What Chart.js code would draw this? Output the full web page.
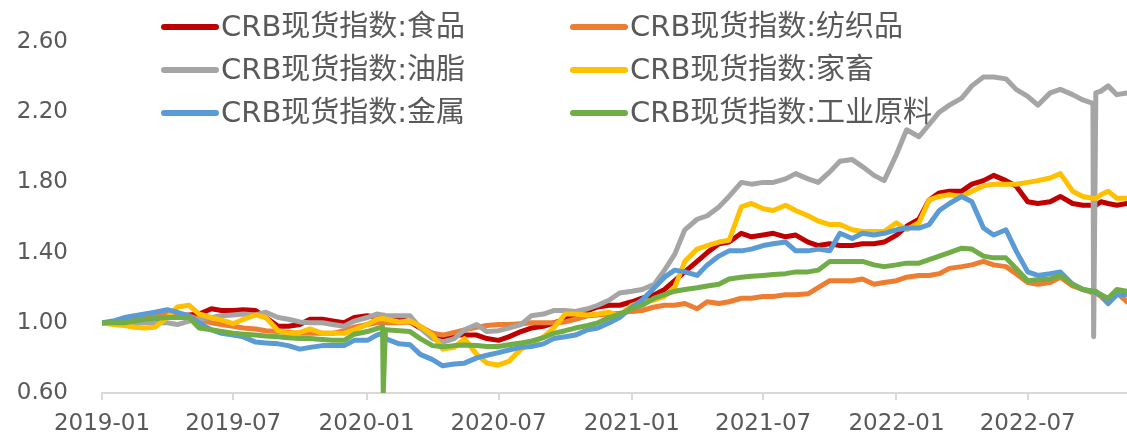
<!DOCTYPE html>
<html>
<head>
<meta charset="utf-8">
<title>CRB现货指数</title>
<script src="https://cdn.jsdelivr.net/npm/chart.js@4.4.0/dist/chart.umd.min.js"></script>
<style>
  html, body { margin: 0; padding: 0; background: #fff; }
  #wrap { width: 1127px; height: 436px; position: relative; }
</style>
</head>
<body>
<div id="wrap"><canvas id="crbChart"></canvas></div>
<script>
// sample dates (semi-monthly, plus the two holiday spikes)
const dates = [
  '2019-01-02','2019-01-16','2019-02-01','2019-02-15','2019-03-01','2019-03-15','2019-04-01','2019-04-15','2019-05-01','2019-05-15','2019-06-01','2019-06-15',
  '2019-07-01','2019-07-15','2019-08-01','2019-08-15','2019-09-01','2019-09-15','2019-10-01','2019-10-15','2019-11-01','2019-11-15','2019-12-01','2019-12-15',
  '2020-01-02','2020-01-15','2020-01-23','2020-01-24','2020-01-27','2020-02-15','2020-03-01','2020-03-15','2020-04-01','2020-04-15','2020-05-01','2020-05-15','2020-06-01',
  '2020-06-15','2020-07-01','2020-07-15','2020-08-01','2020-08-15','2020-09-01','2020-09-15','2020-10-01','2020-10-15','2020-11-01','2020-11-15','2020-12-01','2020-12-15',
  '2021-01-01','2021-01-15','2021-02-01','2021-02-15','2021-03-01','2021-03-15','2021-04-01','2021-04-15','2021-05-01','2021-05-15','2021-06-01','2021-06-15',
  '2021-07-01','2021-07-15','2021-08-01','2021-08-15','2021-09-01','2021-09-15','2021-10-01','2021-10-15','2021-11-01','2021-11-15','2021-12-01','2021-12-15',
  '2022-01-01','2022-01-15','2022-02-01','2022-02-15','2022-03-01','2022-03-15','2022-04-01','2022-04-15','2022-05-01','2022-05-15','2022-06-01','2022-06-15',
  '2022-07-01','2022-07-15','2022-08-01','2022-08-15','2022-09-01','2022-09-15','2022-09-29','2022-09-30','2022-10-03','2022-10-10','2022-10-20','2022-11-01','2022-11-15'
];

const food = [
  1.00,1.00,1.01,1.01,1.02,1.02,1.03,1.04,1.045,1.05,1.08,1.07,
  1.07,1.075,1.07,1.03,0.98,0.98,0.99,1.02,1.02,1.01,1.00,1.03,
  1.04,1.03,1.03,1.03,1.03,1.02,1.005,0.97,0.94,0.92,0.93,0.93,0.93,
  0.91,0.90,0.92,0.95,0.97,0.98,1.00,1.02,1.05,1.07,1.09,1.10,1.10,
  1.12,1.14,1.16,1.19,1.24,1.29,1.35,1.40,1.45,1.46,1.51,1.49,
  1.50,1.51,1.49,1.50,1.46,1.44,1.45,1.44,1.44,1.45,1.45,1.46,
  1.50,1.55,1.59,1.70,1.74,1.75,1.75,1.79,1.81,1.84,1.81,1.78,
  1.69,1.68,1.69,1.72,1.68,1.67,1.67,1.67,1.67,1.69,1.68,1.67,1.68
];
const textile = [
  1.00,1.00,1.01,1.02,1.03,1.04,1.05,1.05,1.04,1.02,1.00,0.99,
  0.98,0.97,0.965,0.955,0.95,0.945,0.94,0.94,0.94,0.94,0.955,0.975,
  0.99,1.00,1.00,1.00,1.00,1.00,1.005,0.98,0.94,0.93,0.945,0.96,0.975,
  0.985,0.99,0.99,0.995,1.00,1.00,1.00,1.005,1.02,1.04,1.045,1.05,1.055,
  1.065,1.07,1.09,1.10,1.10,1.11,1.08,1.12,1.11,1.12,1.14,1.14,
  1.15,1.15,1.16,1.16,1.165,1.20,1.24,1.24,1.24,1.25,1.22,1.23,
  1.24,1.26,1.27,1.27,1.28,1.31,1.32,1.33,1.35,1.33,1.32,1.28,
  1.23,1.22,1.23,1.26,1.21,1.19,1.17,1.17,1.17,1.15,1.11,1.17,1.12
];
const oils = [
  1.00,1.00,1.00,1.00,1.00,1.00,1.00,0.99,1.01,1.02,1.03,1.04,
  1.045,1.05,1.045,1.06,1.03,1.02,1.005,1.00,1.00,0.99,0.98,1.01,
  1.03,1.05,1.045,1.045,1.04,1.04,1.04,0.97,0.91,0.89,0.91,0.96,0.99,
  0.95,0.955,0.97,0.99,1.04,1.05,1.07,1.07,1.065,1.08,1.10,1.13,1.17,
  1.18,1.19,1.22,1.30,1.39,1.53,1.59,1.61,1.66,1.72,1.80,1.79,
  1.80,1.80,1.82,1.85,1.82,1.80,1.86,1.92,1.93,1.89,1.84,1.81,
  1.96,2.10,2.06,2.13,2.20,2.24,2.28,2.35,2.40,2.40,2.39,2.33,
  2.29,2.24,2.31,2.33,2.30,2.27,2.25,0.92,2.31,2.32,2.35,2.30,2.31
];
const livestock = [
  1.00,0.99,0.985,0.975,0.97,0.975,1.03,1.09,1.10,1.05,1.03,1.015,
  0.995,1.02,1.045,1.03,0.955,0.94,0.945,0.965,0.94,0.94,0.94,0.96,
  0.99,1.02,1.025,1.025,1.02,1.005,1.01,0.98,0.93,0.85,0.86,0.91,0.82,
  0.77,0.76,0.78,0.85,0.88,0.92,0.97,1.05,1.05,1.045,1.05,1.06,1.04,
  1.10,1.12,1.13,1.15,1.20,1.35,1.42,1.44,1.46,1.47,1.66,1.68,
  1.65,1.64,1.67,1.64,1.61,1.58,1.56,1.56,1.53,1.52,1.52,1.52,
  1.57,1.53,1.57,1.70,1.72,1.73,1.72,1.75,1.78,1.79,1.79,1.79,
  1.80,1.81,1.825,1.85,1.75,1.72,1.71,1.71,1.71,1.73,1.75,1.71,1.71
];
const metals = [
  1.00,1.01,1.03,1.04,1.05,1.06,1.075,1.06,1.04,1.00,0.96,0.94,
  0.93,0.92,0.89,0.885,0.88,0.87,0.85,0.86,0.87,0.87,0.87,0.90,
  0.90,0.93,0.94,0.94,0.91,0.88,0.875,0.82,0.79,0.755,0.765,0.77,0.80,
  0.815,0.83,0.845,0.86,0.865,0.88,0.91,0.92,0.93,0.96,0.97,1.00,1.03,
  1.09,1.13,1.20,1.26,1.30,1.29,1.27,1.33,1.38,1.41,1.41,1.42,
  1.44,1.45,1.46,1.41,1.41,1.42,1.41,1.51,1.48,1.51,1.50,1.51,
  1.53,1.54,1.54,1.56,1.64,1.68,1.72,1.69,1.54,1.50,1.53,1.41,
  1.29,1.27,1.28,1.29,1.22,1.19,1.18,1.18,1.17,1.16,1.11,1.16,1.16
];
const industrial = [
  1.00,1.00,1.00,1.01,1.02,1.025,1.03,1.03,1.03,0.97,0.96,0.95,
  0.94,0.935,0.93,0.925,0.92,0.915,0.91,0.91,0.905,0.90,0.90,0.935,
  0.95,0.967,0.977,0.60,0.96,0.955,0.95,0.91,0.87,0.863,0.87,0.874,0.87,
  0.865,0.865,0.875,0.885,0.895,0.915,0.94,0.955,0.97,0.985,1.00,1.03,1.05,
  1.08,1.10,1.14,1.16,1.18,1.19,1.20,1.21,1.22,1.25,1.26,1.265,
  1.27,1.275,1.28,1.29,1.29,1.30,1.35,1.35,1.35,1.35,1.33,1.32,
  1.33,1.34,1.34,1.36,1.38,1.40,1.425,1.42,1.38,1.37,1.37,1.31,
  1.24,1.245,1.25,1.27,1.22,1.19,1.18,1.18,1.18,1.16,1.14,1.19,1.18
];

const seriesNames = ['CRB现货指数:食品', 'CRB现货指数:纺织品', 'CRB现货指数:油脂', 'CRB现货指数:家畜', 'CRB现货指数:金属', 'CRB现货指数:工业原料'];
const seriesValues = [food, textile, oils, livestock, metals, industrial];
const seriesColors = ['#C00000', '#ED7D31', '#A5A5A5', '#FFC000', '#5B9BD5', '#70AD47'];

const xTickDates = ['2019-01-01', '2019-07-01', '2020-01-01', '2020-07-01', '2021-01-01', '2021-07-01', '2022-01-01', '2022-07-01'];
const xTickLabels = ['2019-01', '2019-07', '2020-01', '2020-07', '2021-01', '2021-07', '2022-01', '2022-07'];
const yTicks = [0.6, 1.0, 1.4, 1.8, 2.2, 2.6];

// days since 2019-01-01
function dayOf(s) {
  const t = Date.UTC(+s.slice(0, 4), +s.slice(5, 7) - 1, +s.slice(8, 10));
  return (t - Date.UTC(2019, 0, 1)) / 86400000;
}

const textColor = '#595959';
const axisColor = '#D9D9D9';

const datasets = seriesValues.map((vals, i) => ({
  label: seriesNames[i],
  data: vals.map((v, j) => ({ x: dayOf(dates[j]), y: v })),
  borderColor: seriesColors[i],
  backgroundColor: seriesColors[i],
  borderWidth: 5,
  pointRadius: 0,
  tension: 0,
  fill: false,
  borderJoinStyle: 'round',
  borderCapStyle: 'round',
  order: seriesValues.length - 1 - i   // later series on top, like the original
}));

// legend drawn inside the plot, two columns
const legendInside = {
  id: 'legendInside',
  afterDraw(chart) {
    const ctx = chart.ctx;
    ctx.save();
    ctx.font = '29px "DejaVu Sans", "Noto Sans CJK SC", sans-serif';
    ctx.textBaseline = 'middle';
    ctx.textAlign = 'left';
    chart.data.datasets.forEach((ds, i) => {
      const x0 = (i % 2 === 0) ? 164 : 573;
      const y = 27 + Math.floor(i / 2) * 43;
      ctx.strokeStyle = ds.borderColor;
      ctx.lineWidth = 6;
      ctx.lineCap = 'round';
      ctx.beginPath();
      ctx.moveTo(x0, y);
      ctx.lineTo(x0 + 52, y);
      ctx.stroke();
      ctx.fillStyle = textColor;
      ctx.fillText(ds.label, x0 + 57, y + 1);
    });
    ctx.restore();
  }
};

new Chart(document.getElementById('crbChart'), {
  type: 'line',
  data: { datasets: datasets },
  options: {
    responsive: true,
    maintainAspectRatio: false,
    animation: false,
    layout: { autoPadding: false, padding: { top: 42, right: 0, bottom: 0, left: 0 } },
    scales: {
      x: {
        type: 'linear',
        min: 0,
        max: dayOf(dates[dates.length - 1]),
        afterBuildTicks: scale => { scale.ticks = xTickDates.map(d => ({ value: dayOf(d) })); },
        afterFit: scale => { scale.height = 43; },
        grid: { drawOnChartArea: false, drawTicks: true, tickLength: 7, color: axisColor, lineWidth: 2 },
        border: { display: true, color: axisColor, width: 2 },
        ticks: {
          color: textColor,
          padding: 10,
          maxRotation: 0,
          autoSkip: false,
          font: { size: 23, family: '"DejaVu Sans", sans-serif' },
          callback: (value, index) => xTickLabels[index]
        }
      },
      y: {
        min: 0.6,
        max: 2.6,
        afterBuildTicks: scale => { scale.ticks = yTicks.map(v => ({ value: v })); },
        afterFit: scale => { scale.width = 102; },
        // hidden tick marks only used to push the labels away from the plot
        grid: { display: false, drawTicks: true, tickLength: 34 },
        border: { display: false },
        ticks: {
          color: textColor,
          padding: 0,
          font: { size: 23, family: '"DejaVu Sans", sans-serif' },
          callback: value => value.toFixed(2)
        }
      }
    },
    plugins: {
      legend: { display: false },
      tooltip: { enabled: false }
    }
  },
  plugins: [legendInside]
});
</script>
</body>
</html>
